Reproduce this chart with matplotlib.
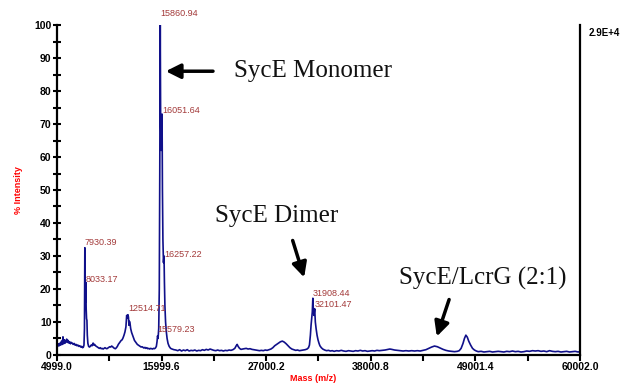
import numpy as np
import matplotlib.pyplot as plt

# spectrum (mass, % intensity)
mass = [4999, 5080, 5160, 5240, 5320, 5400, 5480, 5560, 5630, 5700, 5780, 5860, 5940, 6020, 6100,
        6180, 6260, 6340, 6420, 6500, 6600, 6700, 6800, 6900, 7000, 7100, 7200, 7300, 7400, 7500,
        7600, 7700, 7780, 7840,
        7890, 7930.39, 7960, 8000, 8033.17, 8070, 8110, 8150, 8190, 8250, 8330, 8420, 8500, 8600,
        8700, 8800, 8880, 8960, 9050, 9150, 9250, 9350, 9450, 9550, 9650, 9750, 9850, 9950, 10050,
        10150, 10250, 10350, 10450, 10550, 10650, 10750, 10850, 10950, 11050, 11150, 11250, 11350,
        11450, 11550, 11650, 11750, 11850, 11950, 12050, 12150, 12250, 12330, 12400, 12460,
        12514.71, 12570, 12620, 12680, 12750, 12850, 12950, 13050, 13150, 13250, 13350, 13450,
        13550, 13650, 13750, 13850, 13950, 14050, 14150, 14250, 14350, 14450, 14550, 14650, 14750,
        14850, 14950, 15050, 15150, 15250, 15350, 15450, 15520, 15579.23, 15630, 15700, 15760,
        15810, 15860.94, 15900, 15950, 16000, 16051.64, 16090, 16140, 16200, 16257.22, 16300,
        16350, 16420, 16500, 16580, 16680, 16800, 16950, 17100, 17300, 17500,
        17700, 17900, 18100, 18300, 18500, 18700, 18900, 19100, 19300, 19500, 19700, 19900, 20100,
        20300, 20500, 20700, 20900, 21100, 21300, 21500, 21700, 21900, 22100, 22300, 22500, 22700,
        22900, 23100, 23300, 23500, 23700, 23850, 23950, 24050, 24200, 24350, 24500, 24700, 24900,
        25100, 25300, 25500, 25700, 25900, 26100, 26300, 26500, 26700, 26900, 27100, 27300, 27500,
        27700, 27900, 28100, 28300, 28500, 28700, 28900, 29100, 29300, 29500, 29700, 29900, 30100,
        30300, 30500, 30700, 30900, 31100, 31300, 31450, 31550, 31650, 31720, 31780, 31850,
        31908.44, 31960, 32020, 32101.47, 32170, 32250, 32350, 32450, 32550, 32650, 32800, 32950,
        33150, 33350, 33550, 33750, 33950, 34150, 34400, 34650, 34900, 35150, 35400, 35650, 35900,
        36150, 36400, 36650, 36900, 37150, 37400, 37650, 37900, 38150, 38400, 38650, 38900, 39200,
        39500, 39800, 40000, 40200, 40500, 40800, 41100, 41400, 41700, 42000, 42300, 42600, 42900,
        43200, 43500, 43800, 44100, 44400, 44700, 45000, 45300, 45600, 45900, 46200, 46500, 46800,
        47100, 47300, 47500, 47700, 47850, 48000, 48150, 48300, 48500, 48700, 48900, 49100, 49300,
        49600, 49900, 50200, 50500, 50800, 51100, 51400, 51700, 52000, 52300, 52600, 52900, 53200,
        53500, 53800, 54100, 54400, 54700, 55000, 55300, 55600, 55900, 56200, 56500, 56800, 57100,
        57400, 57700, 58000, 58300, 58600, 58900, 59200, 59500, 59800, 60002]
intensity = [3.0, 2.6, 3.4, 2.8, 3.6, 3.0, 4.2, 3.2, 5.5, 3.4, 4.6, 3.6, 4.0, 4.8, 3.8,
             4.4, 3.6, 4.0, 3.4, 3.8, 3.6, 3.2, 3.5, 3.0, 3.2, 2.8, 3.0, 2.6, 2.8, 2.4,
             2.6, 2.2, 2.4, 3.0,
             8.0, 32.5, 20.0, 16.0, 22.0, 14.0, 11.0, 10.5, 6.0, 3.5, 2.6, 2.4, 2.6, 3.0,
             2.8, 3.6, 3.0, 3.2, 2.8, 2.6, 2.4, 2.2, 2.0, 2.2, 1.9, 2.0, 1.8, 2.0, 2.2,
             2.0, 1.9, 2.1, 2.3, 2.5, 2.4, 2.7, 2.5, 2.2, 2.0, 1.9, 2.2, 2.6,
             3.2, 3.6, 4.0, 4.4, 4.6, 5.2, 6.0, 7.0, 8.5, 12.0, 11.2, 12.2,
             11.5, 9.0, 10.2, 9.6, 8.0, 6.8, 6.0, 5.2, 4.4, 4.0, 3.6, 3.2,
             3.0, 2.8, 2.6, 2.4, 2.5, 2.3, 2.1, 2.3, 2.0, 2.2, 1.9, 2.0, 1.8,
             2.0, 1.9, 1.8, 2.0, 1.9, 2.1, 2.6, 4.0, 5.8, 5.0, 8.0, 20.0,
             55.0, 100.0, 72.0, 62.0, 66.0, 73.0, 50.0, 35.0, 28.0, 30.0, 22.0,
             15.0, 10.0, 7.0, 5.0, 3.5, 2.6, 2.0, 1.8, 1.6, 1.5,
             1.3, 1.6, 1.2, 1.5, 1.3, 1.6, 1.2, 1.4, 1.3, 1.5, 1.2, 1.4, 1.3,
             1.6, 1.4, 1.7, 1.5, 1.8, 1.6, 1.4, 1.3, 1.5, 1.3, 1.4, 1.2, 1.4,
             1.3, 1.5, 1.4, 1.6, 2.0, 2.8, 3.2, 2.6, 2.0, 1.7, 1.8, 1.9, 2.0,
             1.8, 1.9, 1.7, 1.6, 1.5, 1.4, 1.3, 1.4, 1.3, 1.5, 1.4, 1.6, 1.8,
             2.2, 2.8, 3.2, 3.6, 4.0, 4.2, 3.9, 3.4, 2.8, 2.2, 1.8, 1.6, 1.4,
             1.5, 1.3, 1.4, 1.5, 1.6, 1.8, 2.2, 3.0, 6.0, 9.0, 11.0, 13.0,
             17.2, 14.0, 12.0, 14.0, 10.0, 8.0, 6.0, 4.6, 3.6, 2.8, 2.2, 1.8,
             1.5, 1.3, 1.4, 1.2, 1.3, 1.1, 1.3, 1.2, 1.4, 1.2, 1.1, 1.3, 1.2,
             1.1, 1.3, 1.2, 1.4, 1.2, 1.3, 1.1, 1.2, 1.3, 1.2, 1.4, 1.3, 1.4,
             1.5, 1.7, 1.8, 1.7, 1.5, 1.4, 1.3, 1.2, 1.3, 1.2, 1.3, 1.2, 1.3,
             1.2, 1.4, 1.6, 2.0, 2.4, 2.7, 2.5, 2.1, 1.7, 1.4, 1.2, 1.1, 1.0,
             1.1, 1.3, 2.0, 3.5, 5.0, 6.0, 5.4, 4.2, 3.0, 2.0, 1.5, 1.2, 1.0,
             1.1, 0.9, 1.0, 1.1, 0.9, 1.0, 1.1, 1.0, 0.9, 1.1, 1.0, 1.2, 1.0,
             1.1, 0.9, 1.0, 1.2, 1.1, 1.3, 1.2, 1.3, 1.1, 1.2, 1.0, 1.3, 1.1,
             1.0, 1.1, 0.9, 1.0, 1.1, 0.9, 1.0, 1.1, 0.9, 1.0]

# labelled peaks
peak_mass = [7930.39, 8033.17, 12514.71, 15579.23, 15860.94, 16051.64, 16257.22, 31908.44, 32101.47]
peak_int = [32.5, 22.0, 12.2, 5.8, 100.0, 73.0, 30.0, 17.2, 14.0]
peak_dy = [0.5, -1, 1.5, 1, 5, -1, -2, 0.5, -0.5]   # label offsets in points

xticks = [4999.0, 15999.6, 27000.2, 38000.8, 49001.4, 60002.0]

plt.rcParams['font.family'] = ['Liberation Sans', 'DejaVu Sans']

fig = plt.figure(figsize=(6.26, 3.85), dpi=100)
ax = fig.add_axes([0.091, 0.078, 0.8355, 0.857])

ax.plot(mass, intensity, color='#10108a', linewidth=1.2)

for m, v, dy in zip(peak_mass, peak_int, peak_dy):
    ax.annotate('%.2f' % m, xy=(m, v), xytext=(0, dy), textcoords='offset points',
                ha='left', va='bottom', fontsize=6.5, color='#a33a3a', annotation_clip=False)

# annotations
ax.text(23600, 86, 'SycE Monomer', family='Liberation Serif', fontsize=18, va='center', color='#111111')
ax.annotate('', xy=(16150, 86), xytext=(21700, 86),
            arrowprops=dict(arrowstyle='-|>', color='black', lw=2.5, mutation_scale=22))
ax.text(21600, 42, 'SycE Dimer', family='Liberation Serif', fontsize=18, va='center', color='#111111')
ax.annotate('', xy=(31080, 22.7), xytext=(29700, 35.5),
            arrowprops=dict(arrowstyle='-|>', color='black', lw=2.5, mutation_scale=22))
ax.text(40950, 23.3, 'SycE/LcrG (2:1)', family='Liberation Serif', fontsize=18, va='center', color='#111111')
ax.annotate('', xy=(44850, 4.8), xytext=(46330, 17.6),
            arrowprops=dict(arrowstyle='-|>', color='black', lw=2.5, mutation_scale=22))

ax.set_xlim(xticks[0], xticks[-1])
ax.set_ylim(0, 100)
ax.set_xticks(xticks)
ax.set_xticklabels(['%.1f' % t for t in xticks])
ax.set_xticks([(a + b) / 2 for a, b in zip(xticks[:-1], xticks[1:])], minor=True)
ax.set_yticks(np.arange(0, 101, 10))
ax.set_yticks(np.arange(5, 100, 10), minor=True)

for lab in ax.get_xticklabels() + ax.get_yticklabels():
    lab.set_fontweight('bold')
    lab.set_fontsize(7.5)

ax.tick_params(axis='y', which='both', direction='inout', length=6, width=1.5, pad=1)
ax.tick_params(axis='x', which='both', direction='out', length=4, width=1.5, pad=1)

ax.spines['top'].set_visible(False)
for s in ['left', 'bottom', 'right']:
    ax.spines[s].set_linewidth(1.6)

ax.set_ylabel('% Intensity', color='red', fontsize=6.5, fontweight='bold')
ax.set_xlabel('Mass (m/z)', color='red', fontsize=6.5, fontweight='bold')
ax.yaxis.set_label_coords(-0.064, 0.5)
ax.xaxis.set_label_coords(0.49, -0.058)
ax.annotate('2.9E+4', xy=(1, 1), xycoords='axes fraction', xytext=(6, -6), textcoords='offset points',
            ha='left', va='center', fontsize=7, fontweight='bold')

plt.savefig('out.png', dpi=100)
